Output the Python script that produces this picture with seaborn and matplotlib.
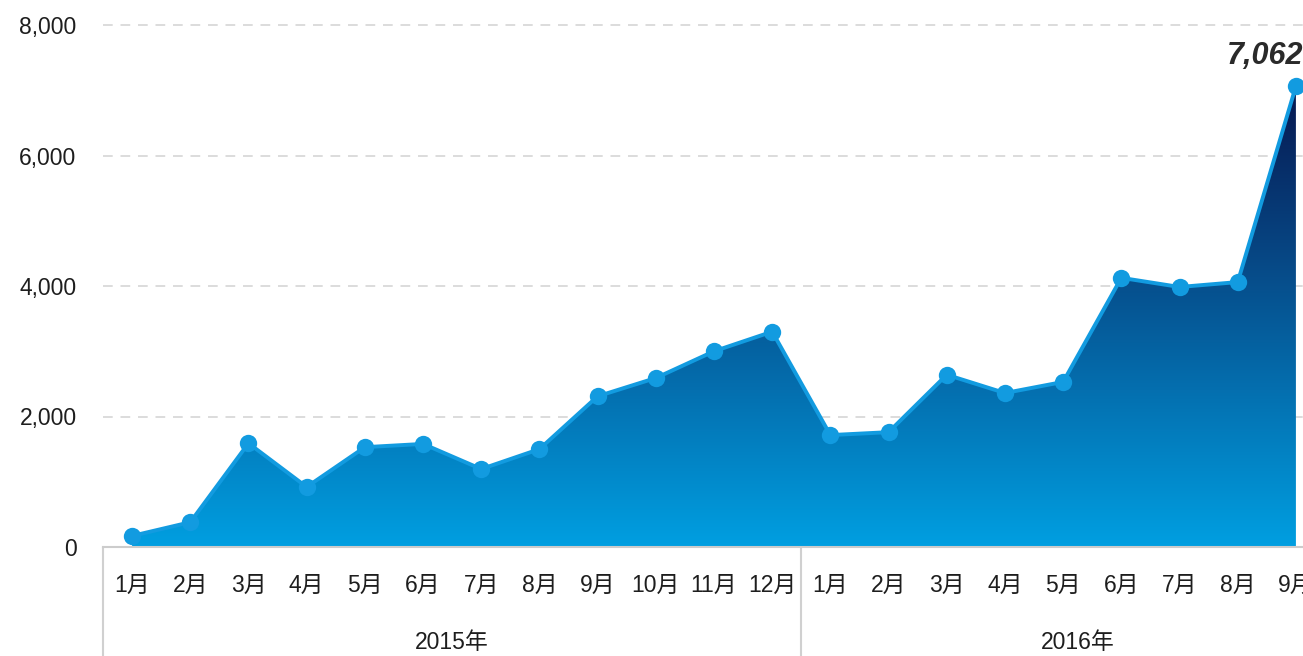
import numpy as np
import pandas as pd
import seaborn as sns
import matplotlib.pyplot as plt
from matplotlib.colors import LinearSegmentedColormap

months = ['1月', '2月', '3月', '4月', '5月', '6月', '7月', '8月', '9月', '10月', '11月', '12月',
          '1月', '2月', '3月', '4月', '5月', '6月', '7月', '8月', '9月']
years = ['2015年'] * 12 + ['2016年'] * 9
values = [170, 380, 1590, 920, 1530, 1580, 1195, 1500, 2310, 2590, 3000, 3300,
          1715, 1760, 2640, 2360, 2530, 4125, 3985, 4060, 7062]

df = pd.DataFrame({'pos': range(len(values)), 'month': months, 'year': years, 'value': values})

sns.set_theme(style='white')
plt.rcParams['font.family'] = ['Liberation Sans', 'Noto Sans CJK SC', 'DejaVu Sans']

fig = plt.figure(figsize=(13.03, 6.56), dpi=100)
ax = fig.add_axes([103 / 1303, 109 / 656, 1222 / 1303, 522 / 656])

line_color = '#129be0'

# gradient fill under the line
cmap = LinearSegmentedColormap.from_list('blu', ['#009fe1', '#0470b0', '#07427f', '#061850'])
grad = np.linspace(0, 1, 256).reshape(-1, 1)
poly = ax.fill_between(df['pos'], df['value'], 0, color='none', lw=0)
img = ax.imshow(grad, cmap=cmap, origin='lower', aspect='auto',
                extent=[0, len(values) - 1, 0, max(values)], zorder=1)
img.set_clip_path(poly.get_paths()[0], transform=ax.transData)

sns.lineplot(data=df, x='pos', y='value', ax=ax, color=line_color, lw=2.8,
             marker='o', markersize=12.5, markeredgewidth=0, zorder=3, clip_on=False)

ax.set_xlim(-0.5, len(values) - 0.5)
ax.set_ylim(0, 8000)
ax.set_yticks([0, 2000, 4000, 6000, 8000])
ax.set_yticklabels([f'{v:,}' for v in [0, 2000, 4000, 6000, 8000]], fontsize=16.5, color='#1e1e1e')
ax.tick_params(axis='y', length=0, pad=19)
ax.set_xticks(df['pos'])
ax.set_xticklabels(months, fontsize=16.5, color='#1e1e1e')
ax.tick_params(axis='x', length=0, pad=19)
ax.set_xlabel('')
ax.set_ylabel('')

for y in [2000, 4000, 6000, 8000]:
    ax.axhline(y, color='#dcdcdc', lw=1.4, ls=(0, (5, 4)), zorder=0, clip_on=False)

for s in ['top', 'right', 'left']:
    ax.spines[s].set_visible(False)
ax.spines['bottom'].set_color('#cccccc')
ax.spines['bottom'].set_linewidth(1.5)

# year grouping lines and labels
trans = ax.get_xaxis_transform()
for x in [-0.5, 11.5]:
    ax.plot([x, x], [0, -0.25], transform=trans, color='#d0d0d0', lw=1.5, clip_on=False)
ax.text(5.5, -0.183, '2015年', transform=trans, ha='center', va='center', fontsize=16.5, color='#1e1e1e')
ax.text(16.25, -0.183, '2016年', transform=trans, ha='center', va='center', fontsize=16.5, color='#1e1e1e')

# last value annotation
ax.text(len(values) - 1 + 0.12, values[-1] + 230, f'{values[-1]:,}', ha='right', va='bottom',
        fontsize=22, fontweight='bold', fontstyle='italic', color='#2a2a2a')

fig.savefig('out.png', dpi=100)
